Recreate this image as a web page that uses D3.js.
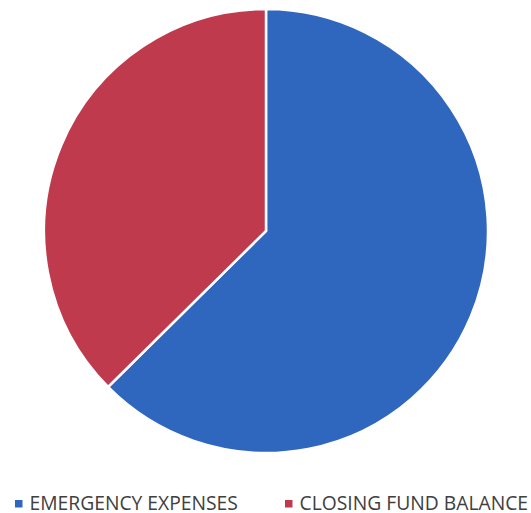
<!DOCTYPE html>
<html>
<head>
<meta charset="utf-8">
<script src="https://cdn.jsdelivr.net/npm/d3@7"></script>
<style>
  body { margin: 0; background: #fff; }
</style>
</head>
<body>
<div id="chart"></div>
<script>
let categories = ["EMERGENCY EXPENSES", "CLOSING FUND BALANCE"];
let values = [62.6, 37.4];
let colours = ["#2f67be", "#c03a4d"];

let w = 531;
let h = 513;
let cx = 266, cy = 231, r = 222;

let svg = d3.select("#chart")
  .append("svg")
  .attr("width", w)
  .attr("height", h);

let pie = d3.pie().sort(null).value(d => d);
let arc = d3.arc().innerRadius(0).outerRadius(r);

let g = svg.append("g")
  .attr("transform", "translate(" + cx + "," + cy + ")");

g.selectAll("path")
  .data(pie(values))
  .join("path")
  .attr("d", arc)
  .attr("fill", (d, i) => colours[i])
  .attr("stroke", "#fff")
  .attr("stroke-width", 2.5)
  .attr("stroke-linejoin", "miter");

// legend
let legendX = [15, 285];
let legend = svg.selectAll("g.legend")
  .data(categories)
  .join("g")
  .attr("class", "legend")
  .attr("transform", (d, i) => "translate(" + legendX[i] + ",500)");

legend.append("rect")
  .attr("width", 7.5)
  .attr("height", 7.5)
  .attr("fill", (d, i) => colours[i]);

legend.append("text")
  .attr("x", 14.5)
  .attr("y", 10)
  .attr("font-family", "Open Sans, sans-serif")
  .attr("font-size", 19.3)
  .attr("fill", "#404040")
  .text(d => d);
</script>
</body>
</html>
